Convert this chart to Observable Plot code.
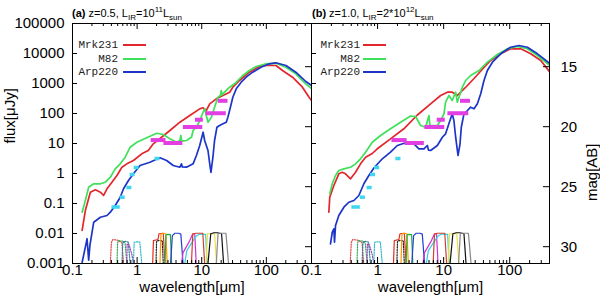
<!DOCTYPE html>
<html><head><meta charset="utf-8">
<script src="https://cdn.jsdelivr.net/npm/d3@7"></script>
<script src="https://cdn.jsdelivr.net/npm/@observablehq/plot@0.6"></script>
<style>
body{margin:0;background:#fff;}
#wrap{position:relative;width:600px;height:304px;overflow:hidden;font-family:"Liberation Sans",Arial,sans-serif;background:#fff;}
#wrap svg{position:absolute;left:0;top:0;}
.ttl{position:absolute;top:6px;font-size:11px;line-height:14px;white-space:nowrap;color:#000;}
.ttl b{font-size:11px;}
.sb{font-size:8px;position:relative;top:3px;}
.sp{font-size:8px;position:relative;top:-5px;}
.lg{position:absolute;font-family:"Liberation Mono","DejaVu Sans Mono",monospace;font-size:11px;line-height:12px;color:#222;text-align:right;width:60px;}
.ll{position:absolute;height:2px;width:23px;}
</style></head><body><div id="wrap"></div>
<script>
// ---------- data ----------
const seriesNames = ["Mrk231", "M82", "Arp220"];
const seriesColors = ["#e3262b", "#3fe05a", "#1c35c8"];

// panel (a): z=0.5   [wavelength um, flux uJy]
const mrk231_a = [[0.141,0.0126],[0.158,0.058],[0.189,0.238],[0.226,0.286],[0.270,0.238],[0.303,0.185],[0.342,0.309],[0.408,0.513],[0.487,0.858],[0.582,1.62],[0.694,2.1],[0.877,2.71],[1.18,4.54],[1.49,5.84],[1.78,9.77],[3.22,27.1],[4.59,51.3],[6.53,85.8],[9.31,143],[10.5,155],[11.8,126],[13.3,210],[16.8,309],[21.3,398],[27.0,513],[30.3,753],[38.4,1259],[54.7,2382],[78.0,3687],[98.9,3981],[141,3981],[178,2712],[254,1622],[362,753],[459,349],[500,271]];
const m82_a = [[0.141,0.0513],[0.158,0.126],[0.178,0.349],[0.213,0.454],[0.270,0.454],[0.322,0.513],[0.385,0.753],[0.459,1.43],[0.548,2.1],[0.654,3.49],[0.78,7.53],[0.99,11.0],[1.41,15.5],[2.01,22.0],[2.54,20],[3.22,14.3],[4.08,11.0],[4.59,12.6],[4.75,18.5],[4.9,12.0],[5.81,12.6],[6.94,16.2],[7.35,27.1],[8.28,34.9],[9.31,58.4],[10.5,110],[11.1,143],[12.5,51.3],[14.1,75.3],[15.8,162],[17.8,349],[19.5,400],[20.1,584],[20.6,420],[22.6,513],[27.0,753],[32.2,977],[36.2,1259],[43.2,1848],[54.7,2712],[69.5,3687],[98.9,4539],[141,4753],[201,3493],[286,2104],[408,977],[500,681]];
const arp220_a = [[0.141,0.0011],[0.158,0.0035],[0.168,0.0067],[0.178,0.0013],[0.186,0.004],[0.213,0.0238],[0.270,0.0349],[0.342,0.0398],[0.385,0.0513],[0.459,0.0858],[0.548,0.162],[0.616,0.309],[0.735,0.585],[0.877,0.977],[1.11,1.85],[1.58,2.38],[2.26,3.34],[2.86,2.71],[3.62,1.85],[4.59,1.62],[4.87,2.1],[5.0,1.65],[5.81,1.62],[7.35,2.1],[8.28,3.98],[9.31,8.58],[10.5,23.8],[11.1,12.6],[12.5,5.84],[13.3,2.1],[13.9,1.08],[14.9,3.49],[15.8,12.6],[17.2,34.9],[18.9,39.8],[21.3,45.3],[24.0,51.3],[25.4,75.3],[27.0,126],[30.3,349],[34.2,665],[40.8,1105],[48.7,1622],[61.5,2382],[82.8,3493],[111,4539],[141,4898],[201,3981],[286,2382],[408,1166],[500,858]];

// panel (b): z=1.0
const mrk231_b = [[0.183,0.0513],[0.189,0.162],[0.218,0.398],[0.259,0.977],[0.292,1.1],[0.327,0.977],[0.39,0.666],[0.464,1.1],[0.552,2.1],[0.658,3.49],[0.831,4.64],[0.99,6.66],[1.57,14.3],[2.5,30.9],[4.0,89],[6.35,210],[9.0,398],[11.4,513],[13.5,513],[16.1,398],[18.1,513],[22.9,858],[28.8,1468],[40.8,3415],[51.5,5843],[73.1,9772],[103,14350],[147,14350],[208,9772],[295,5843],[404,2417]];
const m82_b = [[0.189,0.21],[0.206,0.454],[0.231,0.858],[0.259,1.26],[0.309,1.43],[0.39,1.62],[0.464,2.1],[0.552,3.09],[0.658,5.13],[0.831,11.0],[1.11,18.5],[1.57,30.9],[2.23,51.3],[3.16,82.5],[3.76,79.4],[4.48,39.8],[5.34,34.9],[5.99,85.8],[6.2,40],[8.03,39.8],[9.0,58.4],[10.1,97.7],[10.7,238],[12.0,398],[13.5,271],[15.2,513],[16.1,238],[19.2,753],[21.5,1259],[25.6,1848],[34.3,2712],[45.9,5129],[65.1,9261],[92.3,14350],[131,17100],[185,14350],[263,8570],[404,3981]];
const arp220_b = [[0.194,0.0045],[0.206,0.011],[0.218,0.0143],[0.223,0.0051],[0.231,0.0185],[0.259,0.0398],[0.309,0.0753],[0.367,0.11],[0.438,0.126],[0.521,0.185],[0.62,0.454],[0.738,0.858],[0.879,1.52],[1.18,3.09],[1.57,5.13],[1.99,8.58],[2.82,11.0],[3.55,9.77],[4.23,6.66],[5.03,6.66],[5.66,8.58],[5.9,6.0],[6.35,5.84],[8.03,8.58],[9.56,16.2],[10.7,21.0],[12.0,45.3],[13.5,97.7],[14.3,58.4],[15.2,16.2],[16.5,3.98],[17.7,9.77],[18.5,34.9],[20.3,97.7],[22.9,126],[25.6,162],[28.8,143],[32.4,210],[36.4,454],[40.8,1259],[45.9,2712],[54.7,5129],[73.1,9772],[103,16200],[138,18480],[185,16200],[263,9772],[404,4642]];

// magenta sensitivity bars (shared)
const magentaLo   = [1.65, 2.6, 5.2, 8.0, 11.6, 18];
const magentaHi   = [2.8, 5.1, 10.4, 10.6, 24, 25.5];
const magentaFlux = [13, 10.4, 35.5, 62, 102, 265];
// cyan sensitivity bars (shared)
const cyanLo   = [0.408, 0.548, 0.694, 0.78, 0.899, 1.89];
const cyanHi   = [0.548, 0.654, 0.829, 0.932, 1.073, 2.26];
const cyanFlux = [0.0764, 0.162, 0.341, 0.926, 1.585, 3.16];

// filter transmission curves (shared), [wavelength, scaled response]
const filterColors = ["#e04a4a","#3aa860","#2b7f9a","#a040c0","#30b8c8","#222222","#e03020","#ff9900","#20b040","#2040d0","#d030d0","#30d0e0","#d04030","#f0e040","#111111","#888888"];
const filterDotted = [true,true,true,true,true,true,false,false,false,false,false,false,false,false,false,false];
const filterPts = [
  [[0.385,0.001],[0.40,0.005],[0.42,0.0063],[0.50,0.006],[0.582,0.005],[0.616,0.001]],
  [[0.487,0.001],[0.50,0.005],[0.52,0.0058],[0.62,0.0055],[0.654,0.0045],[0.694,0.001]],
  [[0.582,0.001],[0.60,0.0048],[0.63,0.0055],[0.73,0.0052],[0.78,0.001]],
  [[0.694,0.001],[0.70,0.0045],[0.75,0.0042],[0.83,0.002],[0.877,0.001]],
  [[0.877,0.001],[0.90,0.005],[0.95,0.0053],[1.10,0.0052],[1.18,0.001]],
  [[1.96,0.001],[2.0,0.0055],[2.1,0.0058],[2.45,0.0058],[2.54,0.001]],
  [[1.74,0.001],[1.79,0.0058],[2.10,0.0063],[2.18,0.0098],[2.54,0.0102],[2.70,0.001]],
  [[2.26,0.001],[2.34,0.0095],[2.5,0.0102],[2.79,0.0098],[2.92,0.001]],
  [[2.70,0.001],[2.79,0.009],[3.0,0.0093],[3.27,0.0092],[3.42,0.001]],
  [[3.30,0.001],[3.51,0.0085],[3.84,0.0102],[4.4,0.0102],[4.75,0.0095],[5.14,0.001]],
  [[4.87,0.001],[5.14,0.0023],[6.54,0.0058],[7.27,0.0098],[7.8,0.0098],[8.22,0.001]],
  [[5.47,0.001],[5.87,0.0027],[8.08,0.0079],[9.31,0.0096],[11.5,0.0093],[12.1,0.001]],
  [[6.93,0.001],[7.27,0.0095],[8.08,0.0102],[10.4,0.0102],[11.1,0.001]],
  [[11.7,0.001],[12.3,0.0098],[15.8,0.0098],[17.0,0.001]],
  [[12.5,0.001],[13.8,0.0098],[15.5,0.0106],[17.6,0.0106],[20.3,0.0098],[21.8,0.001]],
  [[16.8,0.001],[17.9,0.0102],[23.7,0.0102],[26.0,0.001]]
];

// axes
const xTickLabels = [0.1, 1, 10, 100];
const yTickLabels = [0.001, 0.01, 0.1, 1, 10, 100, 1000, 10000, 100000];
const magTicks = [15, 20, 25, 30];
const magToFlux = m => Math.pow(10, (23.9 - m) / 2.5); // AB magnitude -> uJy

// ---------- drawing ----------
const H = 304, mTop = 23, mBottom = 41;
function panel({xDomain, mLeft, mRight, curves, yLabels, magLabels}) {
  const W = 600;
  const pw = W - mLeft - mRight, ph = H - mTop - mBottom;
  const allX = d3.scaleLog().domain(xDomain).ticks();
  const xMinor = allX.filter(t => !xTickLabels.some(v => Math.abs(v - t) < 1e-9));
  const marks = [];
  filterPts.forEach((pts, i) => marks.push(Plot.line(pts, {x: d => d[0], y: d => d[1], stroke: filterColors[i], strokeWidth: 1.2, strokeDasharray: filterDotted[i] ? "1.2,1.4" : null, clip: true})));
  curves.forEach((c, i) => marks.push(Plot.line(c, {x: d => d[0], y: d => d[1], stroke: seriesColors[i], strokeWidth: 1.7, clip: true})));
  const mi = d3.range(magentaLo.length), ci = d3.range(cyanLo.length);
  marks.push(Plot.ruleY(mi, {y: i => magentaFlux[i], x1: i => magentaLo[i], x2: i => magentaHi[i], stroke: "#e23ee2", strokeWidth: 4}));
  marks.push(Plot.ruleY(ci, {y: i => cyanFlux[i], x1: i => cyanLo[i], x2: i => cyanHi[i], stroke: "#3fd6f0", strokeWidth: 3.5}));
  // inner ticks
  const inX = xTickLabels.filter(v => v >= xDomain[0] && v <= xDomain[1]);
  marks.push(Plot.ruleX(inX, {x: d => d, insetTop: ph - 6, stroke: "black"}));
  marks.push(Plot.ruleX(inX, {x: d => d, insetBottom: ph - 6, stroke: "black"}));
  marks.push(Plot.ruleX(xMinor, {x: d => d, insetTop: ph - 3, stroke: "black"}));
  marks.push(Plot.ruleX(xMinor, {x: d => d, insetBottom: ph - 3, stroke: "black"}));
  marks.push(Plot.ruleY(yTickLabels, {y: d => d, insetRight: pw - 5, stroke: "black"}));
  marks.push(Plot.ruleY(magTicks, {y: m => magToFlux(m), insetLeft: pw - 6, stroke: "black"}));
  marks.push(Plot.frame({stroke: "black", strokeWidth: 1}));
  marks.push(Plot.axisX(inX, {anchor: "bottom", tickSize: 0, tickPadding: 1, label: null, tickFormat: d => String(d)}));
  marks.push(Plot.text(["wavelength[\u03bcm]"], {text: d => d, frameAnchor: "bottom", dy: 28}));
  if (yLabels) {
    marks.push(Plot.axisY(yTickLabels, {anchor: "left", tickSize: 0, tickPadding: 8, label: null, tickFormat: d => String(d)}));
    marks.push(Plot.text(["flux[\u03bcJy]"], {text: d => d, frameAnchor: "left", dx: -62, rotate: -90}));
  }
  if (magLabels) {
    marks.push(Plot.text(magTicks, {y: m => magToFlux(m), text: m => String(m), frameAnchor: "right", dx: 11, textAnchor: "start"}));
    marks.push(Plot.text(["mag[AB]"], {text: d => d, frameAnchor: "right", dx: 43, rotate: -90}));
  }
  return Plot.plot({
    width: W, height: H, marginLeft: mLeft, marginRight: mRight, marginTop: mTop, marginBottom: mBottom,
    x: {type: "log", domain: xDomain, axis: null},
    y: {type: "log", domain: [0.001, 100000], axis: null},
    style: {background: "transparent", overflow: "visible", fontFamily: "'Liberation Sans', Arial, sans-serif", fontSize: "15px", color: "#000"},
    marks
  });
}

const wrap = document.getElementById("wrap");
wrap.appendChild(panel({xDomain: [0.1, 500], mLeft: 72, mRight: 289, curves: [mrk231_a, m82_a, arp220_a], yLabels: true, magLabels: false}));
wrap.appendChild(panel({xDomain: [0.1, 400], mLeft: 311, mRight: 51, curves: [mrk231_b, m82_b, arp220_b], yLabels: false, magLabels: true}));

// titles
const titles = [
  {left: 72, html: '<b>(a)</b> z=0.5, L<span class="sb">IR</span>=10<span class="sp">11</span>L<span class="sb">sun</span>'},
  {left: 312, html: '<b>(b)</b> z=1.0, L<span class="sb">IR</span>=2*10<span class="sp">12</span>L<span class="sb">sun</span>'}
];
titles.forEach(t => {
  const d = document.createElement("div");
  d.className = "ttl"; d.style.left = t.left + "px"; d.innerHTML = t.html;
  wrap.appendChild(d);
});
// legends
const legendRight = [118, 360], legendLineX = [123, 363], legendY = [45, 59, 72];
legendRight.forEach((xr, p) => {
  seriesNames.forEach((n, i) => {
    const t = document.createElement("div");
    t.className = "lg"; t.textContent = n;
    t.style.left = (xr - 60) + "px"; t.style.top = (legendY[i] - 6) + "px";
    wrap.appendChild(t);
    const l = document.createElement("div");
    l.className = "ll"; l.style.left = legendLineX[p] + "px"; l.style.top = (legendY[i] - 1) + "px";
    l.style.background = seriesColors[i];
    wrap.appendChild(l);
  });
});
</script></body></html>
